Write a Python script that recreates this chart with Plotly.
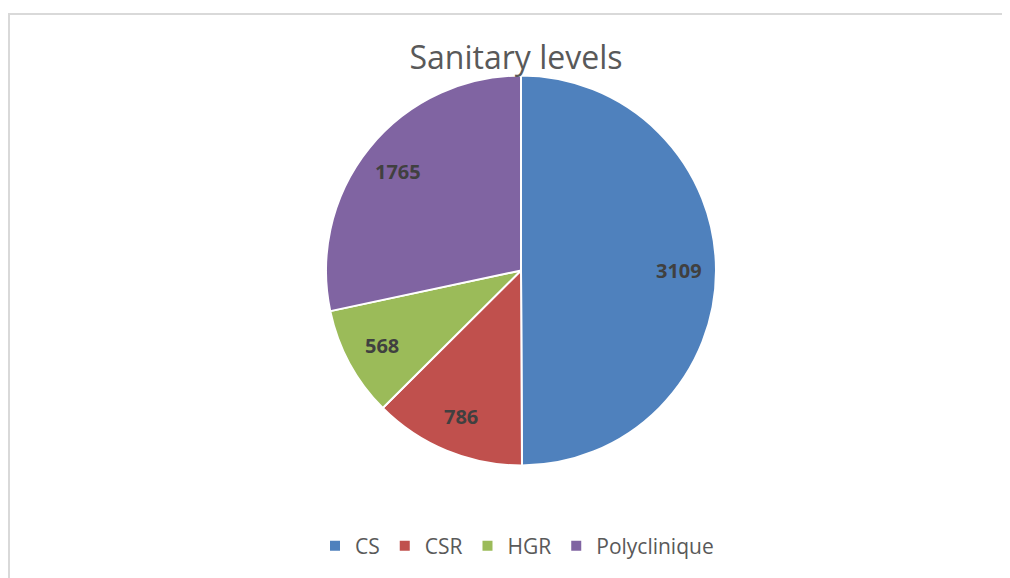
import math
import plotly.graph_objects as go

categories = ["CS", "CSR", "HGR", "Polyclinique"]
values = [3109, 786, 568, 1765]
colors = ["#4f81bd", "#c0504d", "#9bbb59", "#8064a2"]
title_text = "Sanitary levels"

# figure sits inside the page's 8px body margin
W, H = 1002, 570
CX, CY, R = 513, 262.5, 195  # pie centre / radius in figure pixels

fig = go.Figure(go.Pie(
    labels=categories,
    values=values,
    marker=dict(colors=colors, line=dict(color="white", width=2)),
    sort=False,
    direction="clockwise",
    rotation=0,
    textinfo="none",
    domain=dict(x=[(CX - R) / W, (CX + R) / W], y=[1 - (CY + R) / H, 1 - (CY - R) / H]),
    hoverinfo="label+value",
))

# data labels at ~0.8 of the radius, at the middle angle of each slice
total = sum(values)
annotations = []
cum = 0
for v in values:
    mid = (cum + v / 2) / total * 2 * math.pi
    cum += v
    px = CX + 0.81 * R * math.sin(mid)
    py = CY - 0.81 * R * math.cos(mid)
    annotations.append(dict(
        x=px / W, y=1 - py / H, xref="paper", yref="paper", text=f"<b>{v}</b>",
        showarrow=False, xanchor="center", yanchor="middle",
        font=dict(family="Open Sans", size=20, color="#404040"),
    ))

fig.update_layout(
    width=W, height=H,
    margin=dict(l=0, r=0, t=0, b=0),
    paper_bgcolor="white",
    plot_bgcolor="white",
    title=dict(text=title_text, x=508 / W, xanchor="center", y=1 - 50 / H, yanchor="middle",
               font=dict(family="Open Sans", size=32, color="#595959")),
    showlegend=True,
    legend=dict(orientation="h", x=509 / W, xanchor="center", y=1 - 538 / H, yanchor="middle",
                font=dict(family="Open Sans", size=21, color="#595959"),
                itemwidth=30, traceorder="normal"),
    annotations=annotations,
    shapes=[
        dict(type="line", xref="paper", yref="paper", x0=0, x1=1, y0=1 - 6 / H, y1=1 - 6 / H,
             line=dict(color="#d9d9d9", width=2)),
        dict(type="line", xref="paper", yref="paper", x0=1 / W, x1=1 / W, y0=0, y1=1 - 6 / H,
             line=dict(color="#d9d9d9", width=2)),
    ],
)

fig.write_html("out.html")
